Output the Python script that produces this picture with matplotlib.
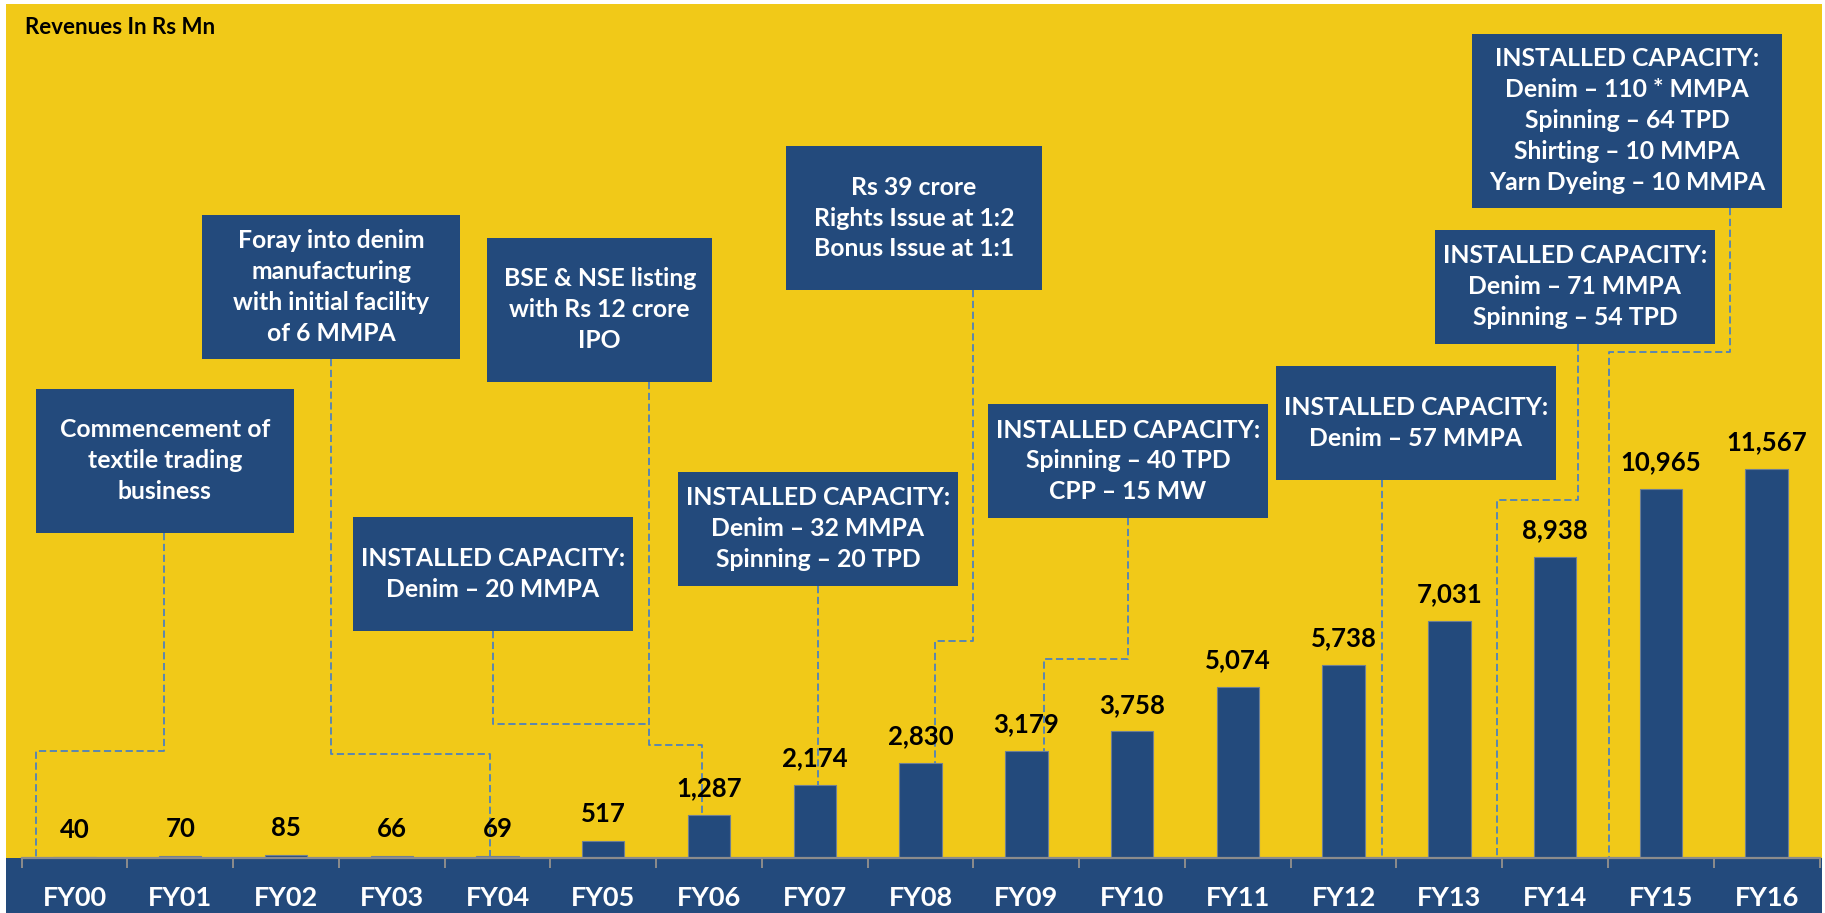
import matplotlib
matplotlib.use('Agg')
import matplotlib.pyplot as plt
from matplotlib.patches import Rectangle
import numpy as np

plt.rcParams['font.family'] = ['Lato', 'DejaVu Sans']

####Data####
years = ['FY00', 'FY01', 'FY02', 'FY03', 'FY04', 'FY05', 'FY06', 'FY07', 'FY08',
         'FY09', 'FY10', 'FY11', 'FY12', 'FY13', 'FY14', 'FY15', 'FY16']
revenue = [40, 70, 85, 66, 69, 517, 1287, 2174, 2830, 3179, 3758, 5074, 5738,
           7031, 8938, 10965, 11567]

box_texts = [
    "Commencement of\ntextile trading\nbusiness",
    "Foray into denim\nmanufacturing\nwith initial facility\nof 6 MMPA",
    "BSE & NSE listing\nwith Rs 12 crore\nIPO",
    "INSTALLED CAPACITY:\nDenim \u2013 20 MMPA",
    "INSTALLED CAPACITY:\nDenim \u2013 32 MMPA\nSpinning \u2013 20 TPD",
    "Rs 39 crore\nRights Issue at 1:2\nBonus Issue at 1:1",
    "INSTALLED CAPACITY:\nSpinning \u2013 40 TPD\nCPP \u2013 15 MW",
    "INSTALLED CAPACITY:\nDenim \u2013 57 MMPA",
    "INSTALLED CAPACITY:\nDenim \u2013 71 MMPA\nSpinning \u2013 54 TPD",
    "INSTALLED CAPACITY:\nDenim \u2013 110 * MMPA\nSpinning \u2013 64 TPD\nShirting \u2013 10 MMPA\nYarn Dyeing \u2013 10 MMPA",
]

####Layout of callouts (x in category units, y in Rs Mn)####
# x0, x1, y0, y1
box_pos = [
    (-0.365, 2.072, 9661, 13929),
    (1.205, 3.645, 14829, 19097),
    (3.903, 6.028, 14146, 18414),
    (2.633, 5.278, 6751, 10128),
    (5.706, 8.354, 8087, 11464),
    (6.727, 9.148, 16870, 21146),
    (8.638, 11.285, 10098, 13484),
    (11.361, 14.009, 11227, 14612),
    (12.864, 15.512, 15275, 18652),
    (13.214, 16.145, 19314, 24473),
]

# dashed leader lines, last point lands on a bar top or on the axis
paths = [
    [(0.848, 9661), (0.848, 3178), (-0.368, 3178), (-0.368, 0)],
    [(2.425, 14829), (2.425, 3098), (3.928, 3098), (3.928, revenue[4])],
    [(5.435, 14146), (5.435, 3356), (5.936, 3356), (5.936, revenue[6])],
    [(3.960, 6751), (3.960, 3989), (5.435, 3989)],
    [(7.033, 8087), (7.033, revenue[7])],
    [(8.499, 16870), (8.499, 6454), (8.139, 6454), (8.139, revenue[8])],
    [(9.964, 10098), (9.964, 5910), (9.164, 5910), (9.164, revenue[9])],
    [(12.361, 11227), (12.361, 0)],
    [(14.220, 15275), (14.220, 10642), (13.454, 10642), (13.454, 0)],
    [(15.651, 19314), (15.651, 15037), (14.507, 15037), (14.507, 0)],
]

YELLOW = '#F1C918'
BLUE = '#234A7C'
LINE = '#4F81BD'

W, H = 1825, 913
fig = plt.figure(figsize=(W / 100, H / 100), dpi=100, facecolor='white')

#background panel + bottom band
fig.patches.append(Rectangle((6 / W, 55 / H), 1816 / W, 854 / H, transform=fig.transFigure,
                             facecolor=YELLOW, edgecolor='none', zorder=-10))
fig.patches.append(Rectangle((6 / W, 0), 1816 / W, 55 / H, transform=fig.transFigure,
                             facecolor=BLUE, edgecolor='none', zorder=-10))

ax = fig.add_axes([21.7 / W, 55 / H, 1797.8 / W, 854 / H])
ax.set_facecolor(YELLOW)

x = np.arange(len(years))
ax.bar(x, revenue, width=0.4, color=BLUE, edgecolor='#6E7F94', linewidth=0.8, zorder=2)

ax.set_xlim(-0.5, 16.5)
ax.set_ylim(0, 25364)

for s in ['left', 'right', 'top']:
    ax.spines[s].set_visible(False)
ax.spines['bottom'].set_color('#8C8C8C')
ax.spines['bottom'].set_linewidth(1.6)
ax.set_yticks([])

ax.set_xticks(x)
ax.set_xticklabels(years, color='white', fontsize=19.5, fontweight='bold')
ax.tick_params(axis='x', which='major', length=0, pad=20)
ax.set_xticks(np.arange(-0.5, 17, 1), minor=True)
ax.tick_params(axis='x', which='minor', length=7.5, width=1.4, color='#8C8C8C', direction='out')

####Value labels####
for i, v in enumerate(revenue):
    ax.annotate(f'{v:,}', (i, v), xytext=(0, 13.5), textcoords='offset points',
                ha='center', va='baseline', fontsize=18.5, fontweight='bold', color='black')

####Leader lines####
for p in paths:
    xs, ys = zip(*p)
    ax.plot(xs, ys, color=LINE, lw=1.3, ls=(0, (4, 2)), zorder=1, clip_on=False)

####Callout boxes####
for (x0, x1, y0, y1), txt in zip(box_pos, box_texts):
    ax.add_patch(Rectangle((x0, y0), x1 - x0, y1 - y0, facecolor=BLUE, edgecolor='none', zorder=3))
    ax.text((x0 + x1) / 2, (y0 + y1) / 2, txt, ha='center', va='center', color='white',
            fontsize=17.8, fontweight='bold', linespacing=1.42, zorder=4)

fig.text(25 / W, 1 - 28 / H, 'Revenues In Rs Mn', fontsize=16, fontweight='bold',
         ha='left', va='center', color='black')

plt.savefig('out.png', dpi=100, facecolor='white')
